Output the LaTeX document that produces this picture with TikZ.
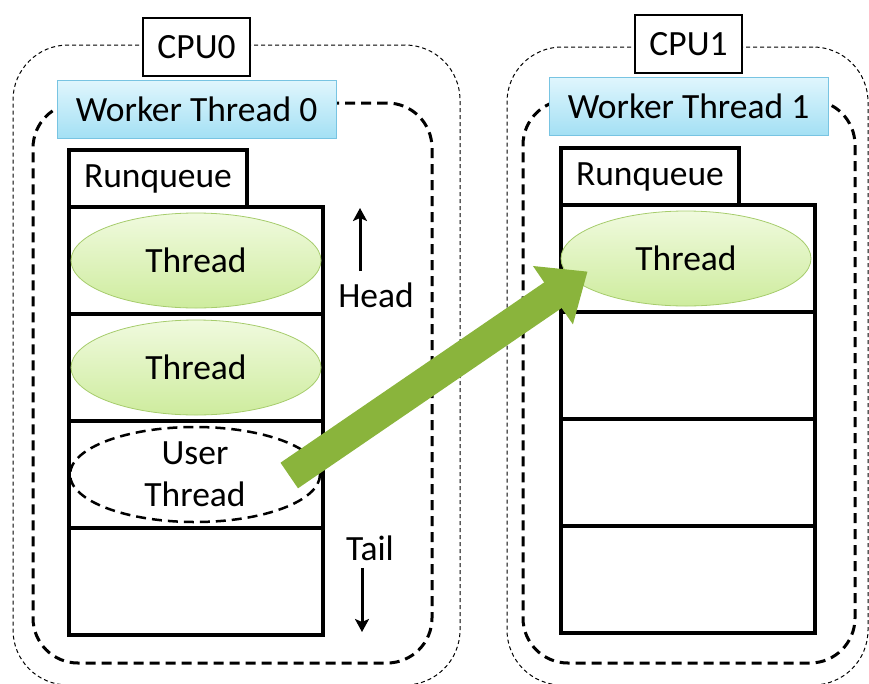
\documentclass[tikz,border=0pt]{standalone}
\usepackage{fontspec}
\setmainfont{Carlito}
\usetikzlibrary{positioning,arrows.meta,shapes.geometric}
\definecolor{wtop}{RGB}{224,246,253}
\definecolor{wbot}{RGB}{164,224,244}
\definecolor{wline}{RGB}{120,196,226}
\definecolor{ttop}{RGB}{240,250,222}
\definecolor{tbot}{RGB}{206,236,158}
\definecolor{tline}{RGB}{166,204,108}
\definecolor{movegreen}{RGB}{138,180,60}
\begin{document}
\begin{tikzpicture}[x=1pt, y=-1pt, node distance=0pt, font=\fontsize{35.5}{42}\selectfont,
    cpuframe/.style = {draw, line width=1pt, dash pattern=on 4pt off 3pt, rounded corners=55pt},
    workframe/.style = {draw, line width=3pt, dash pattern=on 10pt off 6pt, rounded corners=45pt},
    label/.style = {draw, fill=white, line width=1.2pt, minimum width=107pt, minimum height=58pt, inner sep=0pt},
    worker/.style = {draw=wline, line width=1pt, top color=wtop, bottom color=wbot, minimum width=279pt, minimum height=58pt, inner sep=0pt},
    tab/.style = {draw, line width=3.5pt, outer sep=0pt, minimum width=178pt, minimum height=57pt, inner sep=0pt},
    slot/.style = {draw, line width=3.5pt, outer sep=0pt, minimum width=254pt, minimum height=107pt, inner sep=0pt},
    thread/.style = {ellipse, draw=tline, line width=0.8pt, top color=ttop, bottom color=tbot, minimum width=250pt, minimum height=95pt, inner sep=0pt},
    uthread/.style = {ellipse, draw, line width=2.5pt, dash pattern=on 10pt off 6pt, align=center, minimum width=250pt, minimum height=95pt, inner sep=0pt},
    dir/.style = {line width=3pt, -{Stealth[length=13pt,width=14pt,inset=3pt]}}]
    \useasboundingbox (0,0) rectangle (869,683);
    % CPU0
    \node[cpuframe, minimum width=447pt, minimum height=640pt] (cpu0) at (236.5,365) {};
    \node[workframe, minimum width=399pt, minimum height=560pt] (wt0frame) at (232.5,383) {};
    \node[label] (cpu0label) at (196.5,47) {CPU0};
    \node[worker] (wt0) at (196.5,109) {Worker Thread 0};
    \node[slot, anchor=north west] (q0a) at (69,207) {};
    \node[slot] (q0b) [below=of q0a] {};
    \node[slot] (q0c) [below=of q0b] {};
    \node[slot] (q0d) [below=of q0c] {};
    \node[tab, anchor=south west] (rq0) at (q0a.north west) {Runqueue};
    \node[thread] (t0a) at (q0a) {Thread};
    \node[thread] (t0b) at (q0b) {Thread};
    \node[uthread] (ut) at ([xshift=-1pt]q0c) {User\\Thread};
    \node (head) at (376,295) {Head};
    \node (tail) at (370,548) {Tail};
    \coordinate (headend) at (360,208);
    \coordinate (tailend) at (362,632);
    \draw[dir] ([xshift=-16pt,yshift=8pt]head.north) -- (headend);
    \draw[dir] ([xshift=-8pt,yshift=-4pt]tail.south) -- (tailend);
    % CPU1
    \node[cpuframe, minimum width=361pt, minimum height=638pt] (cpu1) at (687.5,366) {};
    \node[workframe, minimum width=332pt, minimum height=563pt] (wt1frame) at (689,381.5) {};
    \node[label] (cpu1label) at (688.5,44) {CPU1};
    \node[worker] (wt1) at (688.5,106) {Worker Thread 1};
    \node[slot, anchor=north west] (q1a) at (561,205) {};
    \node[slot] (q1b) [below=of q1a] {};
    \node[slot] (q1c) [below=of q1b] {};
    \node[slot] (q1d) [below=of q1c] {};
    \node[tab, anchor=south west] (rq1) at (q1a.north west) {Runqueue};
    \node[thread] (t1a) at ([xshift=-2pt]q1a) {Thread};
    % migration
    \coordinate (movefrom) at ([xshift=-32pt,yshift=-1pt]ut.east);
    \coordinate (moveto) at ([xshift=27pt,yshift=-13pt]t1a.west);
    \draw[movegreen, line width=31pt, -{Triangle[length=42pt,width=68pt]}] (movefrom) -- (moveto);
\end{tikzpicture}
\end{document}
